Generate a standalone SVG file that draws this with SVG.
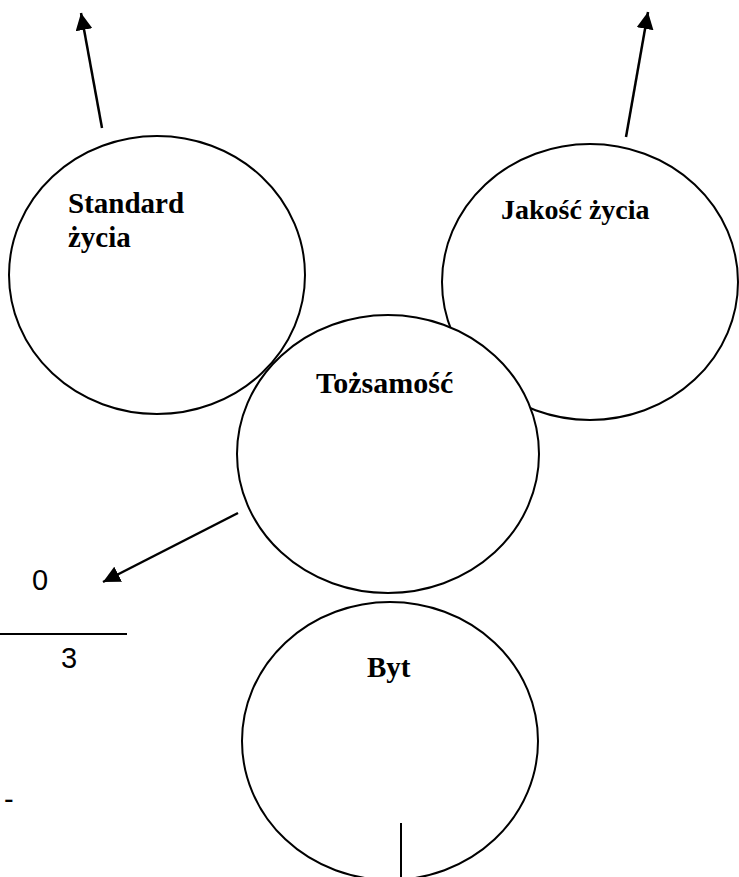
<svg xmlns="http://www.w3.org/2000/svg" width="739" height="877" viewBox="0 0 739 877">
<style>
.c{fill:none;stroke:#000;stroke-width:2}
.cf{fill:#fff;stroke:#000;stroke-width:2}
.lbl{font-family:"Liberation Serif","Times New Roman",serif;font-weight:bold;fill:#000}
.num{font-family:"Liberation Sans",Arial,sans-serif;fill:#000}
.ln{stroke:#000;stroke-width:2.5;fill:none}
</style>
<defs>
<marker id="ah2" viewBox="0 0 10 10" refX="10" refY="5" markerWidth="17" markerHeight="17" markerUnits="userSpaceOnUse" orient="auto">
<path d="M0,0 L10,5 L0,10 z" fill="#000"/>
</marker>
</defs>
<rect width="739" height="877" fill="#fff"/>
<g id="standard">
<ellipse class="c" cx="157" cy="275" rx="148" ry="139"/>
<text class="lbl" font-size="29" x="68" y="213">Standard</text>
<text class="lbl" font-size="29" x="68" y="247">życia</text>
</g>
<g id="jakosc">
<ellipse class="c" cx="590" cy="282" rx="148" ry="138"/>
<text class="lbl" font-size="28" x="501" y="219">Jakość życia</text>
</g>
<g id="tozsamosc">
<ellipse class="cf" cx="388" cy="454" rx="151" ry="139"/>
<text class="lbl" font-size="30" x="316" y="393">Tożsamość</text>
</g>
<g id="byt">
<ellipse class="c" cx="390" cy="741" rx="148" ry="139"/>
<text class="lbl" font-size="29" x="367" y="677">Byt</text>
</g>
<g id="fraction">
<text class="num" font-size="29" x="32" y="590">0</text>
<line x1="0" y1="634" x2="127" y2="634" stroke="#000" stroke-width="2"/>
<text class="num" font-size="29" x="61" y="668">3</text>
<text class="num" font-size="29" x="4" y="809">-</text>
</g>
<g id="connectors">
<line class="ln" x1="102" y1="128" x2="81" y2="13" marker-end="url(#ah2)"/>
<line class="ln" x1="626" y1="137" x2="648" y2="12" marker-end="url(#ah2)"/>
<line class="ln" x1="238" y1="513" x2="103" y2="582" marker-end="url(#ah2)"/>
<line x1="401" y1="823" x2="401" y2="877" stroke="#000" stroke-width="2"/>
</g>
</svg>
